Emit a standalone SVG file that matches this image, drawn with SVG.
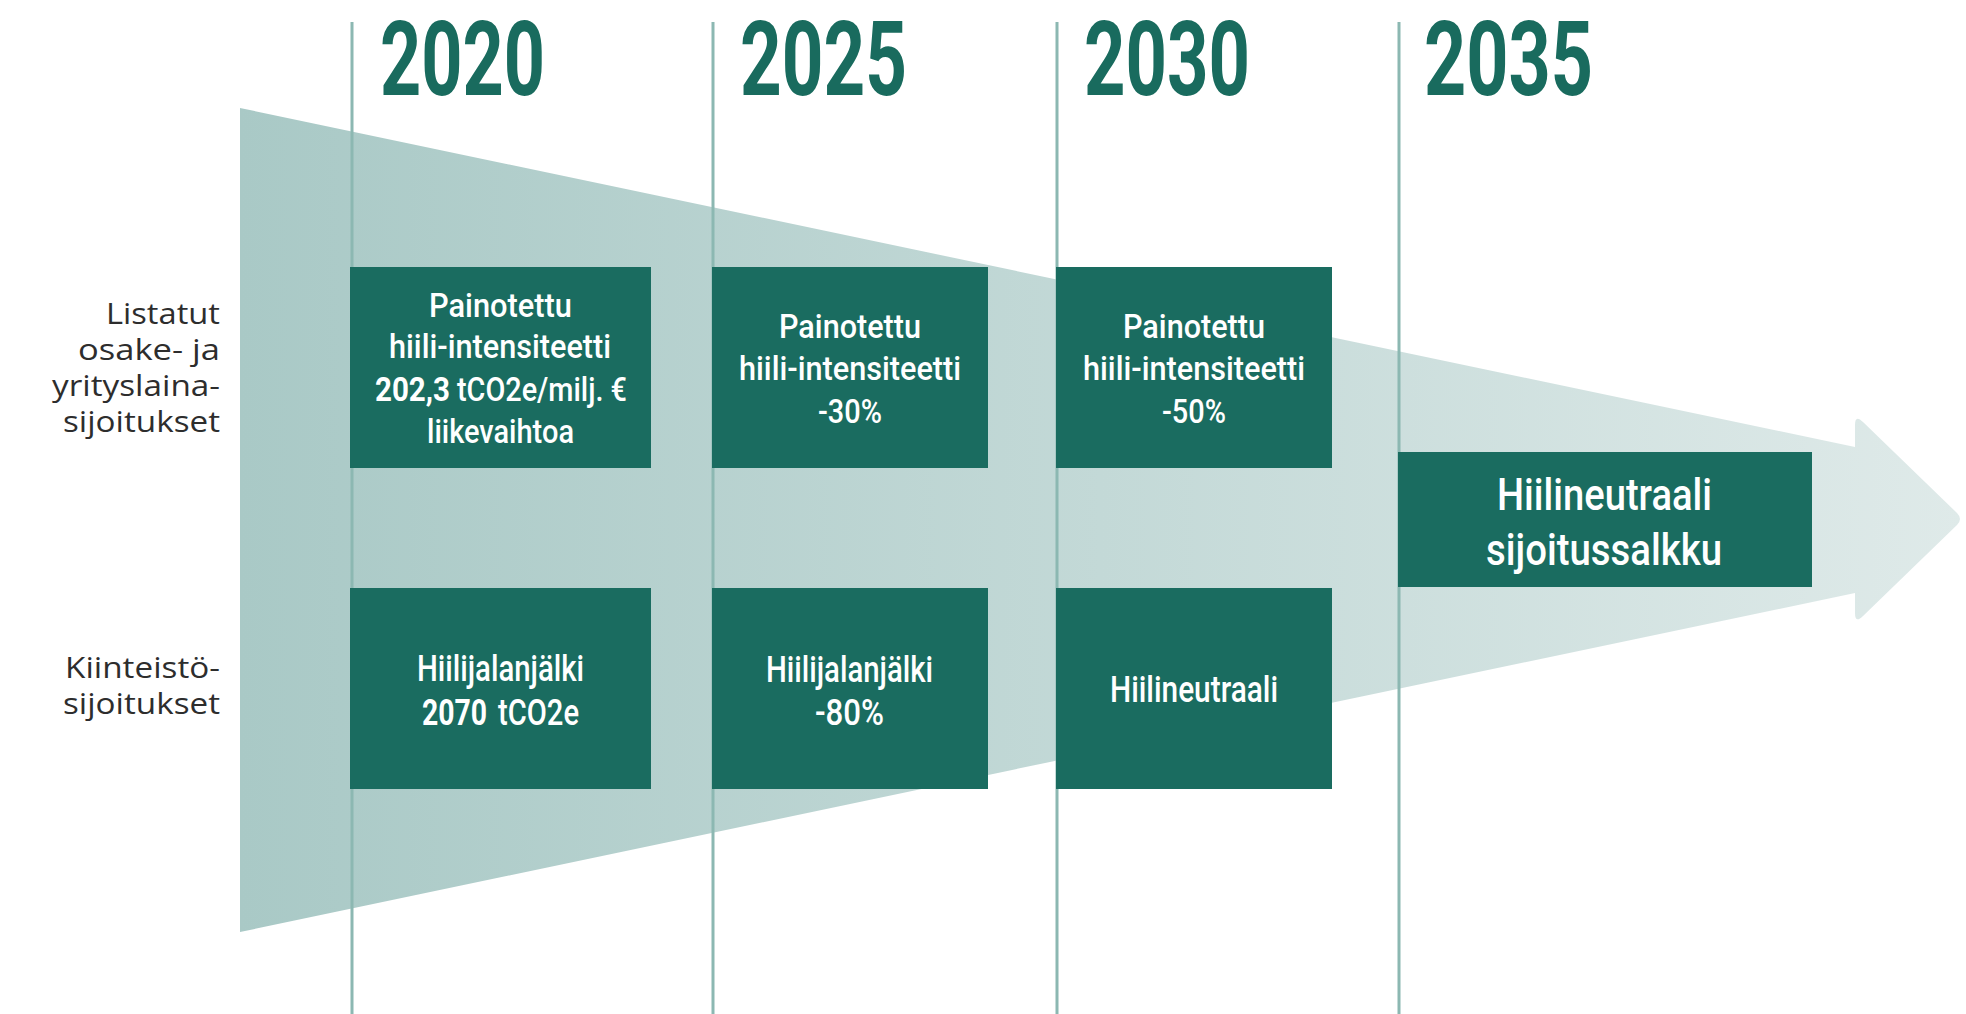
<svg xmlns="http://www.w3.org/2000/svg" width="1966" height="1014" viewBox="0 0 1966 1014">
<defs>
<linearGradient id="arrowGrad" gradientUnits="userSpaceOnUse" x1="240" y1="0" x2="1963" y2="0">
<stop offset="0" stop-color="#a9c9c6"/>
<stop offset="0.5" stop-color="#c3d9d7"/>
<stop offset="1" stop-color="#dfeae9"/>
</linearGradient>
<style>
.year{font-family:Roboto,"DejaVu Sans Condensed","Liberation Sans",sans-serif;font-weight:700;font-size:104px;fill:#196b5e}
.grid{stroke:#8cb8b2;stroke-width:3;fill:none}
.box{fill:#1a6c60}
.t{font-family:Roboto,"Liberation Sans",sans-serif;font-weight:500;font-size:33px;fill:#ffffff}
.b{font-weight:700}
.t2{font-size:36px}
.t3{font-size:45px}
.lab{font-family:"Open Sans","Noto Sans","Liberation Sans",sans-serif;font-weight:400;font-size:29px;fill:#2d2d2d}
</style>
</defs>
<rect width="1966" height="1014" fill="#ffffff"/>

<g id="background-arrow">
<path d="M240,108 L1855,447 L1855,425 Q1855,414 1863,422 L1957,513 Q1963,519 1957,525 L1863,616 Q1855,624 1855,613 L1855,593 L240,932 Z" fill="url(#arrowGrad)"/>
</g>

<g id="timeline-lines">
<line class="grid" x1="352" y1="22" x2="352" y2="1014"/>
<line class="grid" x1="713" y1="22" x2="713" y2="1014"/>
<line class="grid" x1="1057" y1="22" x2="1057" y2="1014"/>
<line class="grid" x1="1399" y1="22" x2="1399" y2="1014"/>
</g>

<g id="years">
<text class="year" x="380" y="95" textLength="165" lengthAdjust="spacingAndGlyphs">2020</text>
<text class="year" x="740" y="95" textLength="167" lengthAdjust="spacingAndGlyphs">2025</text>
<text class="year" x="1084" y="95" textLength="166" lengthAdjust="spacingAndGlyphs">2030</text>
<text class="year" x="1424" y="95" textLength="169" lengthAdjust="spacingAndGlyphs">2035</text>
</g>

<g id="row-labels">
<text class="lab" x="106" y="324" textLength="114" lengthAdjust="spacingAndGlyphs">Listatut</text>
<text class="lab" x="78" y="360" textLength="142" lengthAdjust="spacingAndGlyphs">osake- ja</text>
<text class="lab" x="52" y="396" textLength="168" lengthAdjust="spacingAndGlyphs">yrityslaina-</text>
<text class="lab" x="63" y="432" textLength="157" lengthAdjust="spacingAndGlyphs">sijoitukset</text>
<text class="lab" x="65" y="678" textLength="155" lengthAdjust="spacingAndGlyphs">Kiinteistö-</text>
<text class="lab" x="63" y="714" textLength="157" lengthAdjust="spacingAndGlyphs">sijoitukset</text>
</g>

<g id="node-listed-2020">
<rect class="box" x="350" y="267" width="301" height="201"/>
<text class="t" x="429" y="317" textLength="143" lengthAdjust="spacingAndGlyphs">Painotettu</text>
<text class="t" x="389" y="358" textLength="222" lengthAdjust="spacingAndGlyphs">hiili-intensiteetti</text>
<text class="t b" x="375" y="401" textLength="75" lengthAdjust="spacingAndGlyphs">202,3</text>
<text class="t" x="457" y="401" textLength="170" lengthAdjust="spacingAndGlyphs">tCO2e/milj. €</text>
<text class="t" x="427" y="443" textLength="147" lengthAdjust="spacingAndGlyphs">liikevaihtoa</text>
</g>

<g id="node-listed-2025">
<rect class="box" x="712" y="267" width="276" height="201"/>
<text class="t" x="779" y="338" textLength="142" lengthAdjust="spacingAndGlyphs">Painotettu</text>
<text class="t" x="739" y="380" textLength="222" lengthAdjust="spacingAndGlyphs">hiili-intensiteetti</text>
<text class="t" x="818" y="423" textLength="64" lengthAdjust="spacingAndGlyphs">-30%</text>
</g>

<g id="node-listed-2030">
<rect class="box" x="1056" y="267" width="276" height="201"/>
<text class="t" x="1123" y="338" textLength="142" lengthAdjust="spacingAndGlyphs">Painotettu</text>
<text class="t" x="1083" y="380" textLength="222" lengthAdjust="spacingAndGlyphs">hiili-intensiteetti</text>
<text class="t" x="1162" y="423" textLength="64" lengthAdjust="spacingAndGlyphs">-50%</text>
</g>

<g id="node-target-2035">
<rect class="box" x="1398" y="452" width="414" height="135"/>
<text class="t t3" x="1497" y="510" textLength="215" lengthAdjust="spacingAndGlyphs">Hiilineutraali</text>
<text class="t t3" x="1486" y="565" textLength="236" lengthAdjust="spacingAndGlyphs">sijoitussalkku</text>
</g>

<g id="node-realestate-2020">
<rect class="box" x="350" y="588" width="301" height="201"/>
<text class="t t2" x="417" y="681" textLength="167" lengthAdjust="spacingAndGlyphs">Hiilijalanjälki</text>
<text class="t t2 b" x="422" y="725" textLength="65" lengthAdjust="spacingAndGlyphs">2070</text>
<text class="t t2" x="498" y="725" textLength="81" lengthAdjust="spacingAndGlyphs">tCO2e</text>
</g>

<g id="node-realestate-2025">
<rect class="box" x="712" y="588" width="276" height="201"/>
<text class="t t2" x="766" y="682" textLength="167" lengthAdjust="spacingAndGlyphs">Hiilijalanjälki</text>
<text class="t t2" x="815" y="725" textLength="69" lengthAdjust="spacingAndGlyphs">-80%</text>
</g>

<g id="node-realestate-2030">
<rect class="box" x="1056" y="588" width="276" height="201"/>
<text class="t t2" x="1110" y="702" textLength="168" lengthAdjust="spacingAndGlyphs">Hiilineutraali</text>
</g>

<g id="connectors"></g>
</svg>
